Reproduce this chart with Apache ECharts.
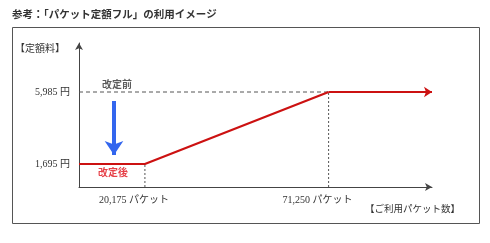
<!DOCTYPE html>
<html>
<head>
<meta charset="utf-8">
<script src="https://cdn.jsdelivr.net/npm/echarts@6/dist/echarts.min.js"></script>
<style>
html, body { margin: 0; padding: 0; background: #fff; }
#cn { width: 490px; height: 243px; }
</style>
</head>
<body>
<div id="cn"></div>
<script>
'use strict';

// values
const xTicks = [20175, 71250];          // パケット
const yTicks = [1695, 5985];            // 円
const xRange = [1850, 100000];
const yRange = [325, 8905];
const arrowFrom = [11580, 5449];        // 改定 (blue arrow)
const arrowTo = [11580, 2231];
const notes = [
    { name: '改定前', value: [12414, 6462], color: '#333' },
    { name: '改定後', value: [11300, 1218], color: '#e0101a' }
];

const serif = "'Liberation Serif', 'Noto Sans CJK JP', serif";
const gothic = "'Noto Sans CJK JP', sans-serif";
const fmt = v => v.toLocaleString('en-US');

const chart = echarts.init(document.getElementById('cn'));

// red price line: flat -> rising, then flat segment with arrow
const redLine = [
    [xRange[0], yTicks[0]],
    [xTicks[0], yTicks[0]],
    [xTicks[1], yTicks[1]]
];
const redTail = [[xTicks[1], yTicks[1]], [xRange[1], yTicks[1]]];

const option = {
    animation: false,
    grid: { left: 79, right: 58, top: 43, bottom: 56 },
    xAxis: {
        type: 'value',
        min: xRange[0],
        max: xRange[1],
        splitLine: { show: false },
        axisTick: { show: false },
        axisLine: {
            lineStyle: { color: '#444', width: 1 },
            symbol: ['none', 'arrow'],
            symbolSize: [6, 7]
        },
        axisLabel: {
            customValues: xTicks,
            formatter: v => fmt(v) + ' パケット',
            margin: 8,
            fontSize: 10,
            color: '#333',
            fontFamily: serif,
            padding: [0, 22, 0, 0]
        }
    },
    yAxis: {
        type: 'value',
        min: yRange[0],
        max: yRange[1],
        splitLine: { show: false },
        axisTick: { show: false },
        axisLine: {
            show: true,
            lineStyle: { color: '#444', width: 1 },
            symbol: ['none', 'arrow'],
            symbolSize: [6, 7]
        },
        axisLabel: {
            customValues: yTicks,
            formatter: v => fmt(v) + ' 円',
            margin: 9,
            fontSize: 10,
            color: '#333',
            fontFamily: serif
        }
    },
    graphic: [
        {
            type: 'text', left: 12, top: 9,
            style: { text: '参考：「パケット定額フル」の利用イメージ', fontSize: 10.5, fontWeight: 'bold', fill: '#333', fontFamily: gothic }
        },
        {
            type: 'rect', shape: { x: 12.5, y: 27.5, width: 467, height: 196 },
            style: { fill: 'none', stroke: '#555', lineWidth: 1 }, z: -1
        },
        {
            type: 'text', left: 15, top: 43,
            style: { text: '【定額料】', fontSize: 10, fill: '#333', fontFamily: gothic }
        },
        {
            type: 'text', left: 365, top: 204,
            style: { text: '【ご利用パケット数】', fontSize: 9.5, fill: '#333', fontFamily: gothic }
        }
    ],
    series: [
        {
            // 改定前 dashed level
            type: 'line',
            data: [[xRange[0], yTicks[1]], [xTicks[1], yTicks[1]]],
            symbol: 'none',
            lineStyle: { color: '#555', width: 1, type: [4, 3] }
        },
        {
            type: 'line',
            data: [[xTicks[0], yRange[0]], [xTicks[0], yTicks[0]]],
            symbol: 'none',
            lineStyle: { color: '#555', width: 1, type: [2, 2] }
        },
        {
            type: 'line',
            data: [[xTicks[1], yRange[0]], [xTicks[1], yTicks[1]]],
            symbol: 'none',
            lineStyle: { color: '#555', width: 1, type: [2, 2] }
        },
        {
            type: 'line',
            data: redLine,
            symbol: 'none',
            lineStyle: { color: '#cc1111', width: 2.2 },
            z: 5
        },
        {
            type: 'lines',
            coordinateSystem: 'cartesian2d',
            symbol: ['none', 'arrow'],
            symbolSize: 8,
            lineStyle: { color: '#cc1111', width: 2.2, opacity: 1 },
            data: [{ coords: redTail }],
            z: 5
        },
        {
            type: 'lines',
            coordinateSystem: 'cartesian2d',
            symbol: ['none', 'arrow'],
            symbolSize: 14,
            lineStyle: { color: '#3366ee', width: 4, opacity: 1 },
            data: [{ coords: [arrowFrom, arrowTo] }],
            z: 5
        },
        {
            type: 'scatter',
            symbolSize: 0,
            data: notes.map(n => ({
                name: n.name,
                value: n.value,
                label: { color: n.color }
            })),
            label: {
                show: true,
                position: 'inside',
                formatter: p => p.name,
                fontSize: 10,
                fontWeight: 'bold',
                fontFamily: gothic
            },
            z: 6
        }
    ]
};

chart.setOption(option);
</script>
</body>
</html>
